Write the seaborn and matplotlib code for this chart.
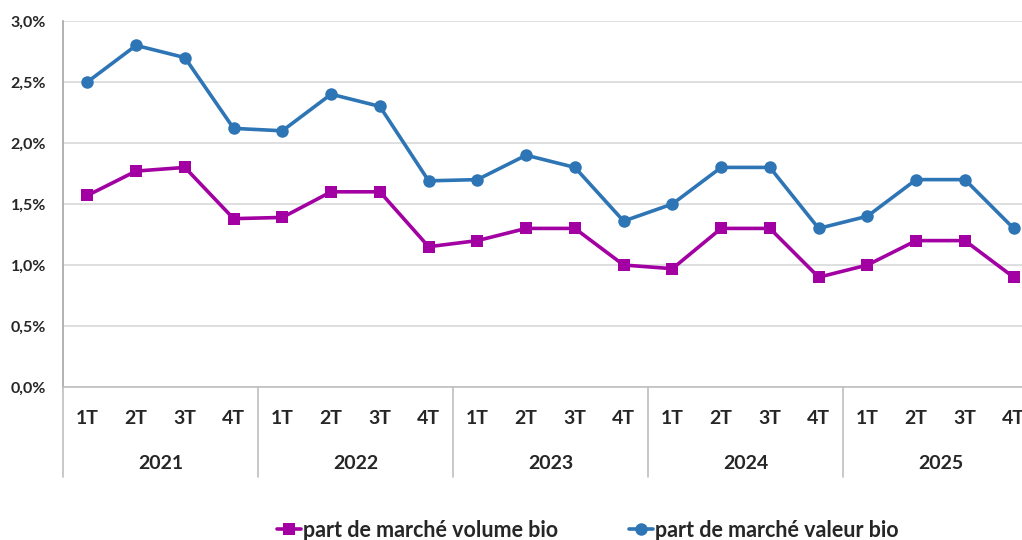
import numpy as np
import pandas as pd
import seaborn as sns
import matplotlib.pyplot as plt
import matplotlib.transforms as mtransforms
from matplotlib.ticker import FuncFormatter

# Data
years = ["2021", "2022", "2023", "2024", "2025"]
quarters = ["1T", "2T", "3T", "4T"]
volume_bio = [1.57, 1.77, 1.80, 1.38,
              1.39, 1.60, 1.60, 1.15,
              1.20, 1.30, 1.30, 1.00,
              0.97, 1.30, 1.30, 0.90,
              1.00, 1.20, 1.20, 0.90]
valeur_bio = [2.50, 2.80, 2.70, 2.12,
              2.10, 2.40, 2.30, 1.69,
              1.70, 1.90, 1.80, 1.36,
              1.50, 1.80, 1.80, 1.30,
              1.40, 1.70, 1.70, 1.30]

LABEL_VOL = "part de marché volume bio"
LABEL_VAL = "part de marché valeur bio"
PURPLE = "#A200A2"
BLUE = "#2E75B6"


def build_frame():
    n = len(volume_bio)
    idx = np.arange(n)
    df = pd.concat([
        pd.DataFrame({"pos": idx, "share": volume_bio, "serie": LABEL_VOL}),
        pd.DataFrame({"pos": idx, "share": valeur_bio, "serie": LABEL_VAL}),
    ])
    return df


def main():
    sns.set_style("white")
    plt.rcParams["font.family"] = ["Lato", "DejaVu Sans"]

    df = build_frame()
    fig = plt.figure(figsize=(10.22, 5.40), dpi=100)
    ax = fig.add_axes([0.0616, 0.2833, 0.9541, 0.6778])

    sns.lineplot(data=df, x="pos", y="share", hue="serie", style="serie",
                 palette={LABEL_VOL: PURPLE, LABEL_VAL: BLUE},
                 markers={LABEL_VOL: "s", LABEL_VAL: "o"},
                 dashes=False, linewidth=2.6, markersize=9,
                 markeredgewidth=0, ax=ax, legend=True)

    n = len(volume_bio)
    ax.set_xlim(-0.5, n - 0.5)
    ax.set_ylim(0, 3.0)
    ax.set_yticks(np.arange(0, 3.01, 0.5))
    ax.yaxis.set_major_formatter(FuncFormatter(lambda v, p: f"{v:.1f}%".replace(".", ",")))
    ax.grid(axis="y", color="#D9D9D9", linewidth=1.2)
    ax.set_axisbelow(True)

    for side in ["top", "right"]:
        ax.spines[side].set_visible(False)
    ax.spines["left"].set_color("#A6A6A6")
    ax.spines["bottom"].set_color("#BFBFBF")
    ax.spines["left"].set_linewidth(1.2)
    ax.spines["bottom"].set_linewidth(1.2)

    for lbl in ax.get_yticklabels():
        lbl.set_fontweight("bold")
        lbl.set_fontsize(11.5)
        lbl.set_color("#262626")
    ax.tick_params(axis="y", length=0, pad=12)

    # two-level category axis
    ax.set_xticks(range(n))
    ax.set_xticklabels([])
    ax.tick_params(axis="x", length=0)
    ax.set_xlabel("")
    ax.set_ylabel("")
    trans = mtransforms.blended_transform_factory(ax.transData, ax.transAxes)
    for i in range(n):
        ax.text(i, -0.085, quarters[i % 4], transform=trans, ha="center", va="center",
                fontsize=14, fontweight="bold", color="#262626")
    for k, yr in enumerate(years):
        ax.text(4 * k + 1.5, -0.208, yr, transform=trans, ha="center", va="center",
                fontsize=14, fontweight="bold", color="#262626")
        ax.plot([4 * k - 0.5, 4 * k - 0.5], [0, -0.246], transform=trans,
                color="#BFBFBF", linewidth=1.2, clip_on=False)

    handles, labels = ax.get_legend_handles_labels()
    ax.get_legend().remove()
    fig.legend(handles, labels, loc="center", bbox_to_anchor=(0.575, 0.018),
               ncol=2, frameon=False, handlelength=1.1,
               handletextpad=0.1, columnspacing=3.3,
               prop={"weight": "bold", "size": 15.5})

    fig.savefig("out.png", dpi=100)
    plt.close(fig)


if __name__ == "__main__":
    main()
